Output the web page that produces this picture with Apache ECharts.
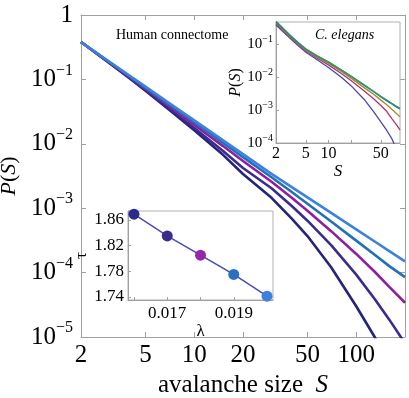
<!DOCTYPE html>
<html>
<head>
<meta charset="utf-8">
<script src="https://cdn.jsdelivr.net/npm/echarts@6/dist/echarts.min.js"></script>
<style>
  html, body { margin: 0; padding: 0; background: #fff; }
  #chart { width: 409px; height: 398px; }
</style>
</head>
<body>
<div id="chart"></div>
<script>
// main panel: avalanche size distribution, human connectome
const sizes = [2, 3, 4, 5, 7, 10, 15, 20, 30, 40, 50, 70, 100, 130, 160, 200];
const pNavy   = [0.38, 0.179, 0.103, 0.0667, 0.0339, 0.0162, 6.8e-3, 3.4e-3, 1.45e-3, 6.9e-4, 3.7e-4, 1.21e-4, 3.0e-5, 1.0e-5, 3.8e-6, null];
const pIndigo = [0.38, 0.180, 0.105, 0.0686, 0.0356, 0.0176, 7.8e-3, 4.2e-3, 2.04e-3, 1.08e-3, 6.4e-4, 2.67e-4, 9.3e-5, 3.9e-5, 1.86e-5, 8.0e-6];
const pPurple = [0.38, 0.183, 0.108, 0.0718, 0.0384, 0.0197, 9.3e-3, 5.4e-3, 2.57e-3, 1.45e-3, 9.1e-4, 4.4e-4, 1.95e-4, 1.03e-4, 6.0e-5, 3.4e-5];
const pBlue   = [0.38, 0.185, 0.111, 0.0745, 0.0409, 0.0217, 0.0104, 6.2e-3, 3.02e-3, 1.78e-3, 1.17e-3, 6.2e-4, 3.14e-4, 1.89e-4, 1.26e-4, 8.5e-5];
const pLight  = [0.38, 0.188, 0.114, 0.0771, 0.0430, 0.0231, 0.0114, 6.9e-3, 3.42e-3, 2.13e-3, 1.47e-3, 8.45e-4, 4.69e-4, 3.04e-4, 2.16e-4, 1.49e-4];
const xTicksMain = [2, 5, 10, 20, 50, 100];
const yTicksMain = [1e-5, 1e-4, 1e-3, 1e-2, 1e-1, 1];

// inset: C. elegans
const sizesCe = [2, 3, 4, 5, 7, 10, 15, 20, 30, 40, 50, 60, 70, 80, 90];
const ceGreen   = [0.50, 0.20, 0.11, 0.072, 0.045, 0.029, 0.0165, 0.0108, 5.8e-3, 3.7e-3, 2.6e-3, 2.0e-3, 1.6e-3, 1.33e-3, 1.15e-3];
const ceTeal    = [0.47, 0.19, 0.105, 0.070, 0.044, 0.0285, 0.016, 0.0105, 5.6e-3, 3.6e-3, 2.5e-3, 1.9e-3, 1.52e-3, 1.25e-3, 1.08e-3];
const ceOlive   = [0.44, 0.18, 0.100, 0.066, 0.041, 0.026, 0.0145, 9.3e-3, 4.8e-3, 3.0e-3, 2.0e-3, 1.45e-3, 1.05e-3, 8.0e-4, 6.2e-4];
const ceCrimson = [0.41, 0.17, 0.095, 0.062, 0.038, 0.0235, 0.0127, 7.9e-3, 3.8e-3, 2.2e-3, 1.38e-3, 9.0e-4, 5.5e-4, 3.7e-4, 2.5e-4];
const ceViolet  = [0.38, 0.16, 0.088, 0.057, 0.034, 0.0195, 9.7e-3, 5.5e-3, 2.1e-3, 9.0e-4, 4.4e-4, 2.4e-4, 1.35e-4, 7.0e-5, 3.5e-5];
const xTicksCe = [2, 5, 10, 50];
const yTicksCe = [1e-4, 1e-3, 1e-2, 1e-1];

// inset: exponent tau vs lambda
const lambdas = [0.016, 0.017, 0.018, 0.019, 0.020];
const taus = [1.869, 1.835, 1.805, 1.775, 1.741];
const tauColors = ['#2b2a8f', '#3a2c8e', '#9427aa', '#2a6fc0', '#3f7fe0'];
const xTicksTau = [0.017, 0.019];
const yTicksTau = [1.74, 1.78, 1.82, 1.86];

const FONT = 'Liberation Serif';
const GRAY = '#a0a0a0';

function pairs(xs, ys) {
    const out = [];
    xs.forEach((x, i) => { if (ys[i] != null) out.push([x, ys[i]]) });
    return out;
}
function pow10(v) {
    const e = Math.round(Math.log10(v));
    if (e === 0) return '{b|1}';
    return '{b|10}{s|' + (e < 0 ? '\u2212' : '') + Math.abs(e) + '}';
}
function supRich(big, small, lh) {
    return {
        b: { fontSize: big, fontFamily: FONT, color: '#000', lineHeight: lh },
        s: { fontSize: small, fontFamily: FONT, color: '#000', verticalAlign: 'top', lineHeight: small }
    };
}

const chart = echarts.init(document.getElementById('chart'));

const mainLine = (data, color) => ({
    type: 'line', xAxisIndex: 0, yAxisIndex: 0, data: pairs(sizes, data),
    showSymbol: false, smooth: false, clip: true,
    lineStyle: { width: 2.6, color: color }
});
const ceLine = (data, color) => ({
    type: 'line', xAxisIndex: 2, yAxisIndex: 2, zlevel: 1, z: 5, data: pairs(sizesCe, data),
    showSymbol: false, clip: true,
    lineStyle: { width: 1.3, color: color }
});

const option = {
    animation: false,
    backgroundColor: '#fff',
    grid: [
        { left: 81, top: 15, width: 324, height: 322, show: false, outerBoundsMode: 'none' },
        { left: 276, top: 22, width: 124, height: 121, show: true, backgroundColor: '#fff', borderColor: '#b0b0b0', borderWidth: 1, zlevel: 1, outerBoundsMode: 'none' },
        { left: 128, top: 211, width: 145, height: 89, show: true, backgroundColor: '#fff', borderColor: '#b0b0b0', borderWidth: 1, zlevel: 1, outerBoundsMode: 'none' }
    ],
    xAxis: [
        {
            type: 'log', gridIndex: 0, min: 2, max: 200,
            axisLine: { lineStyle: { color: GRAY } },
            axisTick: { inside: true, length: 5, customValues: xTicksMain, lineStyle: { color: GRAY } },
            axisLabel: { customValues: xTicksMain, fontSize: 25, fontFamily: FONT, color: '#000', margin: 6 },
            splitLine: { show: false }, minorTick: { show: false },
            name: '{n|avalanche size  }{i|S}', nameLocation: 'middle', nameGap: 36,
            nameTextStyle: { rich: {
                n: { fontSize: 25, fontFamily: FONT, color: '#000' },
                i: { fontSize: 25, fontFamily: FONT, fontStyle: 'italic', color: '#000' }
            } }
        },
        {
            type: 'log', gridIndex: 0, min: 2, max: 200, position: 'top',
            axisLine: { lineStyle: { color: GRAY } },
            axisTick: { inside: true, length: 5, customValues: xTicksMain, lineStyle: { color: GRAY } },
            axisLabel: { show: false }, splitLine: { show: false }
        },
        {
            type: 'log', gridIndex: 1, min: 2, max: 90, zlevel: 1,
            axisLine: { lineStyle: { color: GRAY } },
            axisTick: { inside: true, length: 3, customValues: [2, 5, 10, 20, 50], lineStyle: { color: GRAY } },
            axisLabel: { customValues: xTicksCe, fontSize: 16, fontFamily: FONT, color: '#000', margin: 3 },
            splitLine: { show: false },
            name: 'S', nameLocation: 'middle', nameGap: 20,
            nameTextStyle: { fontSize: 17, fontFamily: FONT, fontStyle: 'italic', color: '#000' }
        },
        {
            type: 'value', gridIndex: 2, min: 0.01582, max: 0.02018, zlevel: 1,
            axisLine: { lineStyle: { color: GRAY } },
            axisTick: { inside: true, length: 3, customValues: lambdas, lineStyle: { color: GRAY } },
            axisLabel: { customValues: xTicksTau, fontSize: 17, fontFamily: FONT, color: '#000', margin: 5 },
            splitLine: { show: false },
            name: '\u03bb', nameLocation: 'middle', nameGap: 18,
            nameTextStyle: { fontSize: 17, fontFamily: FONT, color: '#000' }
        }
    ],
    yAxis: [
        {
            type: 'log', gridIndex: 0, min: 1e-5, max: 1,
            axisLine: { lineStyle: { color: GRAY } },
            axisTick: { inside: true, length: 5, customValues: yTicksMain, lineStyle: { color: GRAY } },
            axisLabel: { customValues: yTicksMain, formatter: pow10, margin: 8, rich: supRich(25, 16, 34) },
            splitLine: { show: false },
            name: '{i|P}{n|(}{i|S}{n|)}', nameLocation: 'middle', nameGap: 52,
            nameTextStyle: { rich: {
                n: { fontSize: 22, fontFamily: FONT, color: '#000' },
                i: { fontSize: 22, fontFamily: FONT, fontStyle: 'italic', color: '#000' }
            } }
        },
        {
            type: 'log', gridIndex: 0, min: 1e-5, max: 1, position: 'right',
            axisLine: { lineStyle: { color: GRAY } },
            axisTick: { inside: true, length: 5, customValues: yTicksMain, lineStyle: { color: GRAY } },
            axisLabel: { show: false }, splitLine: { show: false }
        },
        {
            type: 'log', gridIndex: 1, min: 1e-4, max: 0.47, zlevel: 1,
            axisLine: { lineStyle: { color: GRAY } },
            axisTick: { inside: true, length: 3, customValues: yTicksCe, lineStyle: { color: GRAY } },
            axisLabel: { customValues: yTicksCe, formatter: pow10, margin: 3, rich: supRich(15, 10, 20) },
            splitLine: { show: false },
            name: '{i|P}{n|(}{i|S}{n|)}', nameLocation: 'middle', nameGap: 30,
            nameTextStyle: { rich: {
                n: { fontSize: 16, fontFamily: FONT, color: '#000' },
                i: { fontSize: 16, fontFamily: FONT, fontStyle: 'italic', color: '#000' }
            } }
        },
        {
            type: 'value', gridIndex: 2, min: 1.735, max: 1.874, zlevel: 1,
            axisLine: { lineStyle: { color: GRAY } },
            axisTick: { inside: true, length: 3, customValues: yTicksTau, lineStyle: { color: GRAY } },
            axisLabel: { customValues: yTicksTau, fontSize: 17, fontFamily: FONT, color: '#000', margin: 4,
                formatter: v => v.toFixed(2) },
            splitLine: { show: false },
            name: '\u03c4', nameLocation: 'middle', nameGap: 38,
            nameTextStyle: { fontSize: 17, fontFamily: FONT, color: '#000' }
        }
    ],
    graphic: [
        { type: 'text', left: 116, top: 28, zlevel: 0,
          style: { text: 'Human connectome', fontSize: 14, fontFamily: FONT, fill: '#000' } },
        { type: 'text', left: 315, top: 28, zlevel: 2,
          style: { text: 'C. elegans', fontSize: 14, fontFamily: FONT, fontStyle: 'italic', fill: '#000' } }
    ],
    series: [
        mainLine(pNavy, '#24237d'),
        mainLine(pIndigo, '#3a2c8e'),
        mainLine(pPurple, '#8e1fa0'),
        mainLine(pBlue, '#2170b8'),
        mainLine(pLight, '#3c82dc'),
        ceLine(ceViolet, '#4a46b8'),
        ceLine(ceCrimson, '#b8306e'),
        ceLine(ceOlive, '#a8891e'),
        ceLine(ceTeal, '#2b6fb0'),
        ceLine(ceGreen, '#2e9a5e'),
        {
            type: 'line', xAxisIndex: 3, yAxisIndex: 3, zlevel: 1, z: 5,
            data: lambdas.map((l, i) => ({ value: [l, taus[i]], itemStyle: { color: tauColors[i] } })),
            symbol: 'circle', symbolSize: 11, showSymbol: true,
            lineStyle: { width: 1.5, color: '#4a4ab8' }
        }
    ]
};
chart.setOption(option);
</script>
</body>
</html>
